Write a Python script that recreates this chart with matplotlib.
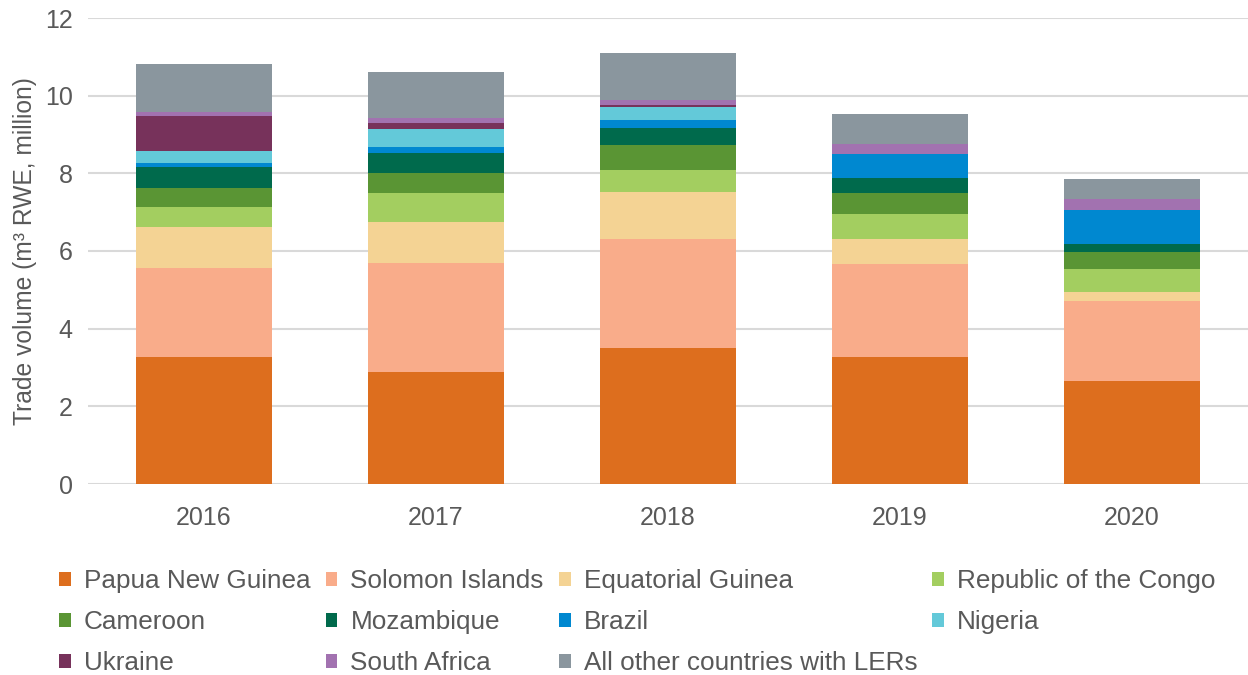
import matplotlib
matplotlib.use("Agg")
import matplotlib.pyplot as plt
from matplotlib.patches import Patch
import numpy as np

plt.rcParams['font.family'] = ['Liberation Sans', 'DejaVu Sans']

years = ["2016", "2017", "2018", "2019", "2020"]
countries = ["Papua New Guinea", "Solomon Islands", "Equatorial Guinea",
             "Republic of the Congo", "Cameroon", "Mozambique", "Brazil",
             "Nigeria", "Ukraine", "South Africa", "All other countries with LERs"]
papua_new_guinea = [3.27, 2.88, 3.50, 3.27, 2.65]
solomon_islands = [2.30, 2.82, 2.80, 2.39, 2.06]
equatorial_guinea = [1.06, 1.05, 1.23, 0.65, 0.24]
republic_congo = [0.50, 0.75, 0.56, 0.64, 0.59]
cameroon = [0.50, 0.50, 0.64, 0.54, 0.44]
mozambique = [0.54, 0.53, 0.45, 0.39, 0.20]
brazil = [0.09, 0.14, 0.19, 0.62, 0.88]
nigeria = [0.32, 0.48, 0.35, 0.00, 0.00]
ukraine = [0.90, 0.15, 0.03, 0.00, 0.00]
south_africa = [0.10, 0.12, 0.14, 0.26, 0.29]
all_other = [1.24, 1.19, 1.22, 0.76, 0.50]

series = [papua_new_guinea, solomon_islands, equatorial_guinea, republic_congo,
          cameroon, mozambique, brazil, nigeria, ukraine, south_africa, all_other]
colors = ["#DD6E1E", "#F9AC8A", "#F4D394", "#A3CE60", "#5A9534", "#006A4C",
          "#0088D0", "#63C9D9", "#77325B", "#A272B0", "#8A969E"]

TXT = "#595959"
fig = plt.figure(figsize=(12.48, 6.75), dpi=100)
ax = fig.add_axes([88/1248, 1-484/675, 1160/1248, 466/675])

x = np.arange(len(years))
bottom = np.zeros(len(years))
for vals, c in zip(series, colors):
    ax.bar(x, vals, bottom=bottom, width=0.59, color=c, linewidth=0, zorder=3)
    bottom += np.array(vals)

ax.set_xlim(-0.5, 4.5)
ax.set_ylim(0, 12)
ax.set_yticks(range(0, 13, 2))
ax.set_xticks(x)
ax.set_xticklabels(years)
ax.grid(axis='y', color='#D9D9D9', linewidth=1.5, zorder=0)
for s in ax.spines.values():
    s.set_visible(False)
ax.tick_params(axis='both', length=0, labelsize=18, colors=TXT)
ax.tick_params(axis='y', pad=11)
ax.tick_params(axis='x', pad=16)
ax.set_ylabel("Trade volume (m³ RWE, million)", fontsize=17.7, color=TXT, labelpad=6)

# legend, filled row-wise as in reference
order = [0, 4, 8, 1, 5, 9, 2, 6, 10, 3, 7]
handles = [Patch(facecolor=colors[i], edgecolor='none') for i in order]
labels = [countries[i] for i in order]
fig.legend(handles, labels, ncol=4, loc='upper left',
           bbox_to_anchor=(59/1248, 1-569/675), frameon=False,
           fontsize=18.8, labelcolor=TXT, handlelength=0.45, handleheight=0.45,
           handletextpad=0.5, columnspacing=0.58, labelspacing=0.65, borderpad=0,
           borderaxespad=0)

fig.savefig("out.png", dpi=100)
